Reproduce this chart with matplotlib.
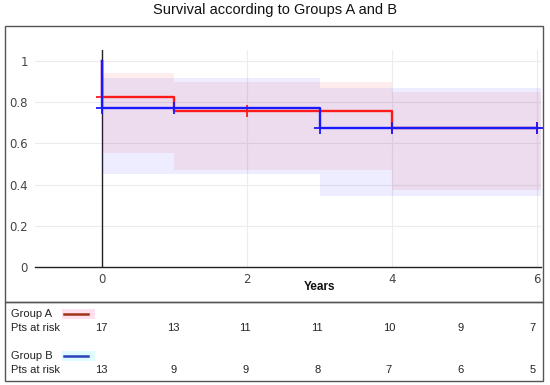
import matplotlib
matplotlib.use("Agg")
import matplotlib.pyplot as plt
import numpy as np
from matplotlib.patches import Rectangle
from matplotlib.lines import Line2D

# ---- data ----
title = "Survival according to Groups A and B"
A_t = [0, 1, 4, 6]
A_s = [0.824, 0.758, 0.674, 0.674]
A_lo = [0.555, 0.473, 0.377, 0.377]
A_hi = [0.94, 0.90, 0.85, 0.85]
A_cens = [0, 2, 4, 6]

B_t = [0, 3, 6]
B_s = [0.770, 0.673, 0.673]
B_lo = [0.45, 0.345, 0.345]
B_hi = [0.916, 0.868, 0.868]
B_cens = [0, 1, 3, 4, 6]

risk_times = [0, 1, 2, 3, 4, 5, 6]
risk_A = [17, 13, 11, 11, 10, 9, 7]
risk_B = [13, 9, 9, 8, 7, 6, 5]

xticks = [0, 2, 4, 6]
yticks = [0, 0.2, 0.4, 0.6, 0.8, 1]
ytick_labels = ["0", "0.2", "0.4", "0.6", "0.8", "1"]

W, H = 550, 385
fig = plt.figure(figsize=(W / 100, H / 100), dpi=100)

def fx(px):
    return px / W

def fy(py):
    return 1 - py / H

XL = (-0.92, 6.05)
YL = (0, 1.053)
ax = fig.add_axes([fx(35), fy(267.3), fx(541) - fx(35), fy(50) - fy(267.3)])
ax.set_xlim(*XL)
ax.set_ylim(*YL)
for s in ["top", "right", "left"]:
    ax.spines[s].set_visible(False)
ax.spines["bottom"].set_color("#222222")
ax.spines["bottom"].set_linewidth(1.0)
ax.set_xticks(xticks)
ax.set_yticks(yticks)
ax.set_yticklabels(ytick_labels)
ax.tick_params(length=0, labelsize=8.5, labelcolor="#444444", pad=5)
ax.tick_params(axis="x", pad=4)
for y in yticks[1:]:
    ax.axhline(y, color="#ececec", lw=0.8, zorder=0)
for x in xticks[1:]:
    ax.axvline(x, color="#ececec", lw=0.8, zorder=0)
ax.axvline(0, color="#222222", lw=1.0, zorder=1)

def step_fn(ts, vals, t):
    idx = np.searchsorted(ts, t, side="right") - 1
    return vals[idx]

right = XL[1]
for ts, lo, hi, col in [(A_t, A_lo, A_hi, "#ff0000"), (B_t, B_lo, B_hi, "#0000ff")]:
    xs = list(ts[:-1]) + [right]
    ax.fill_between(xs, list(lo[:-1]) + [lo[-1]], list(hi[:-1]) + [hi[-1]],
                    step="post", color=col, alpha=0.07, lw=0, zorder=1)

for ts, ss, cens, col in [(A_t, A_s, A_cens, "#ff1a1a"), (B_t, B_s, B_cens, "#1a1aff")]:
    xs = [0] + list(ts)
    ys = [1] + list(ss)
    ax.step(xs, ys, where="post", color=col, lw=1.7, zorder=3)
    cy = [step_fn(ts, ss, c) for c in cens]
    ax.plot(cens, cy, ls="none", marker="+", ms=9, mew=1.3, color=col, zorder=3,
            clip_on=False)

fig.text(0.5, fy(10), title, ha="center", va="center", fontsize=10.5,
         family="Liberation Sans", color="#111111")
fig.text(fx(319), fy(287), "Years", ha="center", va="center", fontsize=8.5,
         family="Liberation Sans", weight="bold", color="#111111")

# boxes
for (x0, y0, x1, y1) in [(4.5, 26, 543, 301.7), (4.5, 301.7, 543, 381)]:
    fig.add_artist(Rectangle((fx(x0), fy(y1)), fx(x1) - fx(x0), fy(y0) - fy(y1),
                             transform=fig.transFigure, fill=False,
                             edgecolor="#555555", lw=1.0, zorder=10))

# risk table
tab = fig.add_axes([fx(101.7), fy(381), fx(532.6) - fx(101.7), fy(301.7) - fy(381)])
tab.set_xlim(0, 6)
tab.set_ylim(381, 301.7)
tab.axis("off")
rows = [("Group A", 314, "#a03418", "#ffe0ee", risk_A, 327.7),
        ("Group B", 356, "#2a40b8", "#e0fbff", risk_B, 370)]
for name, ylab, lcol, bg, risks, yr in rows:
    fig.text(fx(11), fy(ylab), name, ha="left", va="center", fontsize=8,
             family="Liberation Sans", color="#222222")
    fig.text(fx(11), fy(yr), "Pts at risk", ha="left", va="center", fontsize=8,
             family="Liberation Sans", color="#222222")
    fig.add_artist(Rectangle((fx(62), fy(ylab + 5)), fx(33), fy(0) - fy(10),
                             transform=fig.transFigure, color=bg, lw=0))
    fig.add_artist(Line2D([fx(64), fx(88)], [fy(ylab), fy(ylab)],
                          transform=fig.transFigure, color=lcol, lw=1.8))
    for t, r in zip(risk_times, risks):
        tab.text(t, yr, str(r), ha="center", va="center", fontsize=8,
                 family="Liberation Sans", color="#222222")

fig.savefig("out.png", dpi=100)
